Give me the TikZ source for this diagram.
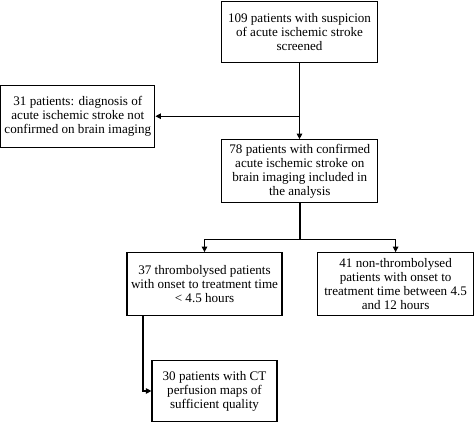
\documentclass[tikz,border=0pt]{standalone}
\usepackage{fontspec}
\setmainfont{Liberation Serif}
\usetikzlibrary{arrows.meta,calc}
\begin{document}
\begin{tikzpicture}[x=1pt,y=-1pt,
  box/.style={draw,line width=1.2pt,align=center,inner sep=0pt,
    font=\fontsize{13.1}{13.9}\selectfont},
  conn/.style={line width=1.2pt},
  arr/.style={conn,-{Triangle[length=5.5pt,width=5.5pt]}}]
\useasboundingbox (0,0) rectangle (474,423);
\node[box,minimum width=156pt,minimum height=61pt] (b1) at (299.5,31.8)
  {109 patients with suspicion\\of acute ischemic stroke\\screened};
\node[box,minimum width=154pt,minimum height=62.5pt] (b2) at (77.8,116.5)
  {31 patients: diagnosis of\\acute ischemic stroke not\\confirmed on brain imaging};
\node[box,minimum width=156pt,minimum height=62.5pt] (b3) at (299.8,171)
  {78 patients with confirmed\\acute ischemic stroke on\\brain imaging included in\\the analysis};
\node[box,minimum width=155pt,minimum height=63pt] (b4) at (204.5,284.2)
  {37 thrombolysed patients\\with onset to treatment time\\< 4.5 hours};
\node[box,minimum width=155.5pt,minimum height=63pt] (b5) at (395.6,284.2)
  {41 non-thrombolysed\\patients with onset to\\treatment time between 4.5\\and 12 hours};
\node[box,minimum width=125pt,minimum height=61.5pt] (b6) at (214.5,391)
  {30 patients with CT\\perfusion maps of\\sufficient quality};
\coordinate (j1) at (299.5,116.2);
\coordinate (j2) at (300,239.3);
\coordinate (j3) at (143,391.7);
\draw[arr] (b1.south) -- (b1.south |- b3.north);
\draw[arr] (j1) -- (j1 -| b2.east);
\draw[conn] (b3.south -| j2) -- (j2);
\draw[arr] (j2) -| (b4.north);
\draw[arr] (j2) -| (b5.north);
\draw[arr] (b4.south -| j3) |- (b6.west);
\end{tikzpicture}
\end{document}
